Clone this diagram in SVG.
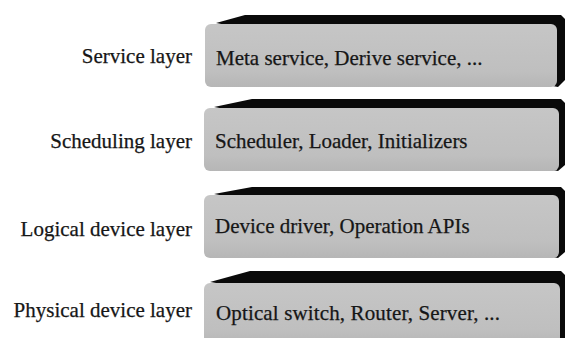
<svg xmlns="http://www.w3.org/2000/svg" width="565" height="338" viewBox="0 0 565 338">
  <style>
    .label { font-family: "Liberation Serif", "Times New Roman", serif; font-size: 21px; fill: #161616; stroke: #161616; stroke-width: 0.25; }
    .side { fill: #0a0a0a; }
    .face { fill: url(#faceGrad); }
  </style>
  <defs>
    <linearGradient id="faceGrad" x1="0" y1="0" x2="0" y2="1">
      <stop offset="0" stop-color="#c6c6c6"/>
      <stop offset="0.75" stop-color="#bfbfbf"/>
      <stop offset="1" stop-color="#b6b6b6"/>
    </linearGradient>
  </defs>
  <rect width="565" height="338" fill="#ffffff"/>

  <!-- layer labels -->
  <g id="labels">
    <text class="label" x="192" y="63" text-anchor="end">Service layer</text>
    <text class="label" x="192" y="148" text-anchor="end">Scheduling layer</text>
    <text class="label" x="192" y="236" text-anchor="end">Logical device layer</text>
    <text class="label" x="192" y="317" text-anchor="end">Physical device layer</text>
  </g>

  <!-- layer slabs: black top/right faces behind a grey front face -->
  <g id="service">
    <polygon class="side" points="216,23 245,15 561,15 565,19 565,80 558,87"/>
    <rect class="face" x="205" y="24" width="352" height="63" rx="6"/>
    <text class="label" x="216" y="65">Meta service, Derive service, ...</text>
  </g>
  <g id="scheduling">
    <polygon class="side" points="214,107 252,99 561,99 565,103 565,165 558,171"/>
    <rect class="face" x="204" y="108" width="355" height="63" rx="6"/>
    <text class="label" x="215" y="148">Scheduler, Loader, Initializers</text>
  </g>
  <g id="logical">
    <polygon class="side" points="214,194 252,187 561,187 565,191 565,252 558,258"/>
    <rect class="face" x="204" y="195" width="355" height="63" rx="6"/>
    <text class="label" x="215" y="233">Device driver, Operation APIs</text>
  </g>
  <g id="physical">
    <polygon class="side" points="210,282 250,271 561,271 565,275 565,338 558,338"/>
    <rect class="face" x="204" y="283" width="356" height="62" rx="6"/>
    <text class="label" x="216" y="320" textLength="284" lengthAdjust="spacing">Optical switch, Router, Server, ...</text>
  </g>
</svg>
